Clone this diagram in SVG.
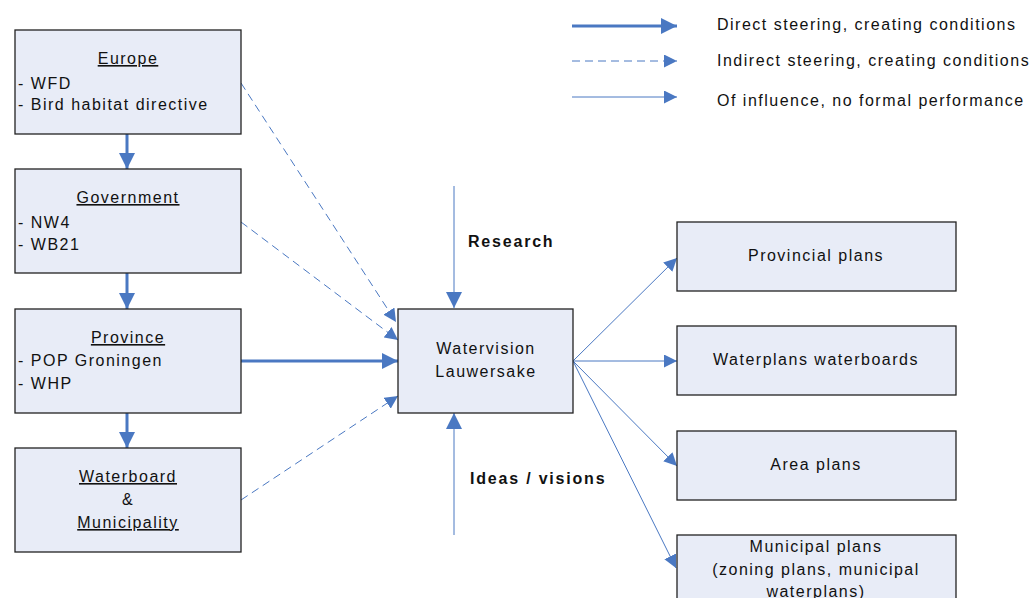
<svg xmlns="http://www.w3.org/2000/svg" width="1034" height="598" viewBox="0 0 1034 598">
<defs>
<marker id="ahs" viewBox="0 0 10 10" refX="10" refY="5" markerWidth="13" markerHeight="13" markerUnits="userSpaceOnUse" orient="auto"><path d="M0,0 L10,5 L0,10 z" fill="#4a78c2"/></marker>
<marker id="ahb" viewBox="0 0 10 10" refX="10" refY="5" markerWidth="16" markerHeight="16" markerUnits="userSpaceOnUse" orient="auto"><path d="M0,0 L10,5 L0,10 z" fill="#4a78c2"/></marker>
</defs>
<style>
.box{fill:#e8ecf7;stroke:#222;stroke-width:1.3}
text{font-family:"Liberation Sans",Arial,sans-serif;font-size:16px;fill:#111;letter-spacing:1.5px}
.c{text-anchor:middle}
.u{text-decoration:underline}
.b{font-weight:bold;letter-spacing:1.8px}
.thick{stroke:#4a78c2;stroke-width:3;fill:none}
.thin{stroke:#4a78c2;stroke-width:1;fill:none}
.dash{stroke:#4a78c2;stroke-width:1;fill:none;stroke-dasharray:8,5}
</style>
<rect width="1034" height="598" fill="#fff"/>
<g id="connectors">
<line class="thick" x1="127" y1="134" x2="127" y2="169" marker-end="url(#ahb)"/>
<line class="thick" x1="127" y1="273" x2="127" y2="309" marker-end="url(#ahb)"/>
<line class="thick" x1="127" y1="413" x2="127" y2="448" marker-end="url(#ahb)"/>
<line class="thick" x1="241" y1="361" x2="398" y2="361" marker-end="url(#ahb)"/>
<line class="dash" x1="241" y1="83" x2="396" y2="322" marker-end="url(#ahs)"/>
<line class="dash" x1="241" y1="222" x2="398" y2="340" marker-end="url(#ahs)"/>
<line class="dash" x1="241" y1="500" x2="398" y2="396" marker-end="url(#ahs)"/>
<line class="thin" x1="454" y1="186" x2="454" y2="308" marker-end="url(#ahb)"/>
<line class="thin" x1="454" y1="535" x2="454" y2="413" marker-end="url(#ahb)"/>
<line class="thin" x1="573" y1="361" x2="677" y2="258" marker-end="url(#ahs)"/>
<line class="thin" x1="573" y1="361" x2="677" y2="361" marker-end="url(#ahs)"/>
<line class="thin" x1="573" y1="361" x2="677" y2="466" marker-end="url(#ahs)"/>
<line class="thin" x1="573" y1="361" x2="676" y2="568" marker-end="url(#ahs)"/>
</g>
<g id="legend">
<line class="thick" x1="572" y1="26" x2="677" y2="26" marker-end="url(#ahb)"/>
<line class="dash" x1="572" y1="61" x2="677" y2="61" marker-end="url(#ahs)"/>
<line class="thin" x1="572" y1="97" x2="677" y2="97" marker-end="url(#ahs)"/>
<text x="717" y="30">Direct steering, creating conditions</text>
<text x="717" y="66">Indirect steering, creating conditions</text>
<text x="717" y="106">Of influence, no formal performance</text>
</g>
<g id="europe">
<rect class="box" x="15" y="30" width="226" height="104"/>
<text class="c u" x="128" y="64">Europe</text>
<text x="18" y="89">- WFD</text>
<text x="18" y="110">- Bird habitat directive</text>
</g>
<g id="government">
<rect class="box" x="15" y="169" width="226" height="104"/>
<text class="c u" x="128" y="203">Government</text>
<text x="18" y="228">- NW4</text>
<text x="18" y="250">- WB21</text>
</g>
<g id="province">
<rect class="box" x="15" y="309" width="226" height="104"/>
<text class="c u" x="128" y="343">Province</text>
<text x="18" y="366">- POP Groningen</text>
<text x="18" y="389">- WHP</text>
</g>
<g id="waterboard">
<rect class="box" x="15" y="448" width="226" height="104"/>
<text class="c u" x="128" y="482">Waterboard</text>
<text class="c" x="128" y="505">&amp;</text>
<text class="c u" x="128" y="528">Municipality</text>
</g>
<g id="watervision">
<rect class="box" x="398" y="309" width="175" height="104"/>
<text class="c" x="486" y="354">Watervision</text>
<text class="c" x="486" y="377">Lauwersake</text>
</g>
<g id="labels">
<text class="b" x="468" y="247">Research</text>
<text class="b" x="470" y="484">Ideas / visions</text>
</g>
<g id="provincial">
<rect class="box" x="677" y="222" width="279" height="69"/>
<text class="c" x="816" y="261">Provincial plans</text>
</g>
<g id="waterplans">
<rect class="box" x="677" y="326" width="279" height="69"/>
<text class="c" x="816" y="365">Waterplans waterboards</text>
</g>
<g id="area">
<rect class="box" x="677" y="431" width="279" height="69"/>
<text class="c" x="816" y="470">Area plans</text>
</g>
<g id="municipal">
<rect class="box" x="677" y="535" width="279" height="80"/>
<text class="c" x="816" y="552">Municipal plans</text>
<text class="c" x="816" y="575">(zoning plans, municipal</text>
<text class="c" x="816" y="597">waterplans)</text>
</g>
</svg>
